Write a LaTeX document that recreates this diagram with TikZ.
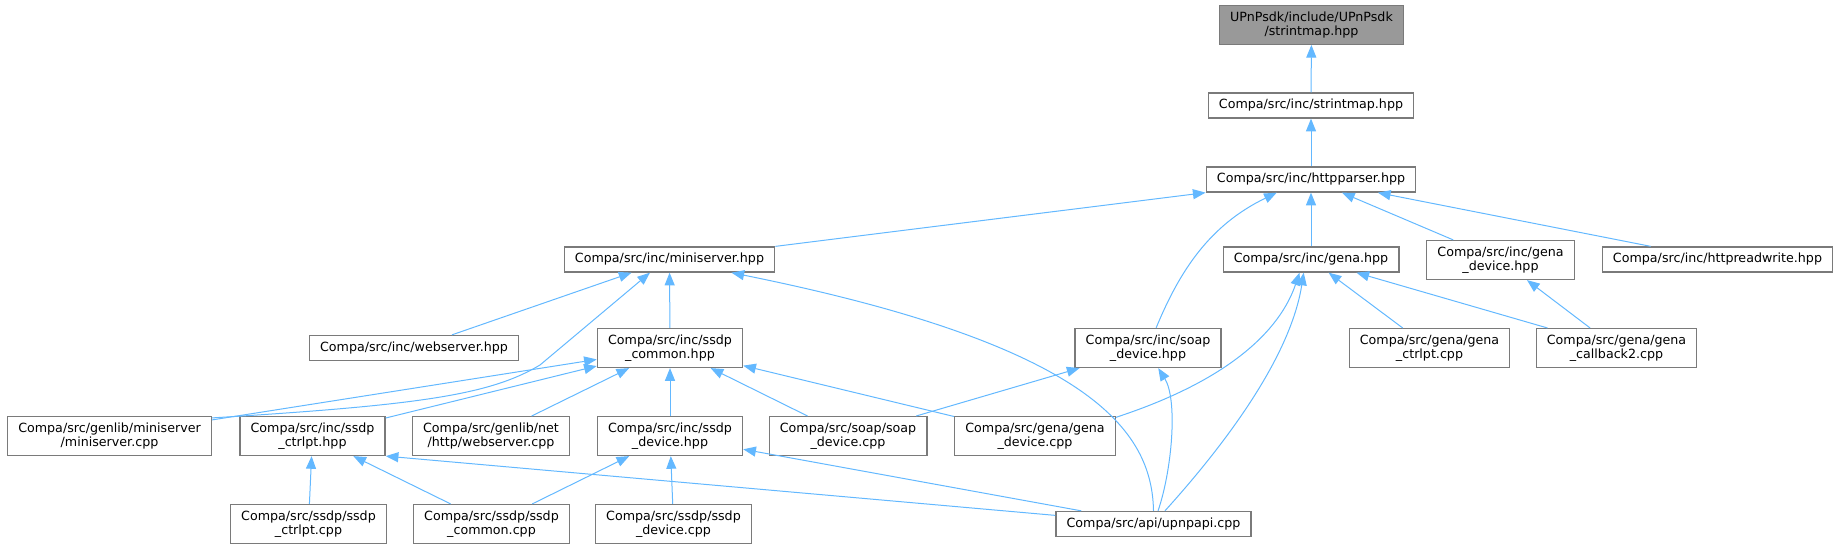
\documentclass[tikz,border=0pt]{standalone}
\usepackage{fontspec}
\setmainfont{DejaVu Sans}
\usepackage{tikz}
\usetikzlibrary{arrows.meta}
\definecolor{edgeblue}{HTML}{63B8FF}
\definecolor{boxgray}{HTML}{7A7A7A}
\definecolor{rootgray}{HTML}{999999}

\begin{document}
\begin{tikzpicture}[x=0.75pt, y=-0.75pt,
  file/.style={draw=boxgray, line width=1pt, fill=white, font=\fontsize{9.5}{10.7}\selectfont,
    align=center, inner xsep=8pt, inner ysep=4.5pt, minimum height=18.75pt},
  root/.style={file, fill=rootgray},
  dep/.style={draw=edgeblue, line width=0.75pt, -{Triangle[length=9.5pt, width=7.5pt]}}]
  \useasboundingbox (0,0) rectangle (1841,549);

  % Fichiers d'en-tete
  \node[root] (root) at (1311.5,25) {UPnPsdk/include/UPnPsdk\\/strintmap.hpp};
  \node[file] (strint) at (1311,105.5) {Compa/src/inc/strintmap.hpp};
  \node[file] (parser) at (1311,179.5) {Compa/src/inc/httpparser.hpp};

  \node[file] (minisrv) at (669.5,259.5) {Compa/src/inc/miniserver.hpp};
  \node[file] (gena) at (1311,259.5) {Compa/src/inc/gena.hpp};
  \node[file] (genadev) at (1500.5,260) {Compa/src/inc/gena\\\_device.hpp};
  \node[file] (httprw) at (1717.5,259.5) {Compa/src/inc/httpreadwrite.hpp};

  \node[file] (websrv) at (414,348) {Compa/src/inc/webserver.hpp};
  \node[file] (ssdpcom) at (670,348) {Compa/src/inc/ssdp\\\_common.hpp};
  \node[file] (soaph) at (1148,348) {Compa/src/inc/soap\\\_device.hpp};
  \node[file] (genactl) at (1429.5,348) {Compa/src/gena/gena\\\_ctrlpt.cpp};
  \node[file] (genacb) at (1616.5,348) {Compa/src/gena/gena\\\_callback2.cpp};

  % Sources
  \node[file] (minicpp) at (109.5,436) {Compa/src/genlib/miniserver\\/miniserver.cpp};
  \node[file] (ctrlh) at (312.5,436) {Compa/src/inc/ssdp\\\_ctrlpt.hpp};
  \node[file] (webcpp) at (491,436) {Compa/src/genlib/net\\/http/webserver.cpp};
  \node[file] (devh) at (670,436) {Compa/src/inc/ssdp\\\_device.hpp};
  \node[file] (soapcpp) at (848,436) {Compa/src/soap/soap\\\_device.cpp};
  \node[file] (genadcpp) at (1035,436) {Compa/src/gena/gena\\\_device.cpp};

  \node[file] (ctrlcpp) at (308.5,524) {Compa/src/ssdp/ssdp\\\_ctrlpt.cpp};
  \node[file] (comcpp) at (491.5,524) {Compa/src/ssdp/ssdp\\\_common.cpp};
  \node[file] (devcpp) at (673.5,524) {Compa/src/ssdp/ssdp\\\_device.cpp};
  \node[file] (upnp) at (1153.5,524) {Compa/src/api/upnpapi.cpp};

  % Dependances
  \draw[dep] (strint) -- (root);
  \draw[dep] (parser) -- (strint);
  \draw[dep] (minisrv) -- (parser);
  \draw[dep] (soaph.68) .. controls (1180,270) and (1210,225) .. (parser.201);
  \draw[dep] (gena) -- (parser);
  \draw[dep] (genadev) -- (parser);
  \draw[dep] (httprw) -- (parser);

  \draw[dep] (websrv) -- (minisrv);
  \draw[dep] (minicpp.10) .. controls (420,405) and (490,395) .. (540,365) -- (minisrv.214);
  \draw[dep] (ssdpcom) -- (minisrv);
  \draw[dep] (upnp.north) .. controls (1152,430) and (1090,345) .. (minisrv.-12);

  \draw[dep] (minicpp) -- (ssdpcom);
  \draw[dep] (ctrlh) -- (ssdpcom);
  \draw[dep] (webcpp) -- (ssdpcom);
  \draw[dep] (devh) -- (ssdpcom);
  \draw[dep] (soapcpp) -- (ssdpcom);
  \draw[dep] (genadcpp) -- (ssdpcom);

  \draw[dep] (soapcpp) -- (soaph);
  \draw[dep] (upnp.71) .. controls (1172,470) and (1178,400) .. (soaph.-63);

  \draw[dep] (genadcpp.13) .. controls (1230,380) and (1280,330) .. (gena.-131);
  \draw[dep] (upnp.49) .. controls (1220,450) and (1290,360) .. (gena.-119);
  \draw[dep] (genactl) -- (gena);
  \draw[dep] (genacb) -- (gena);
  \draw[dep] (genacb) -- (genadev);

  \draw[dep] (ctrlcpp) -- (ctrlh);
  \draw[dep] (comcpp) -- (ctrlh);
  \draw[dep] (upnp) -- (ctrlh.south east);
  \draw[dep] (comcpp) -- (devh);
  \draw[dep] (devcpp) -- (devh);
  \draw[dep] (upnp) -- (devh);
\end{tikzpicture}
\end{document}
